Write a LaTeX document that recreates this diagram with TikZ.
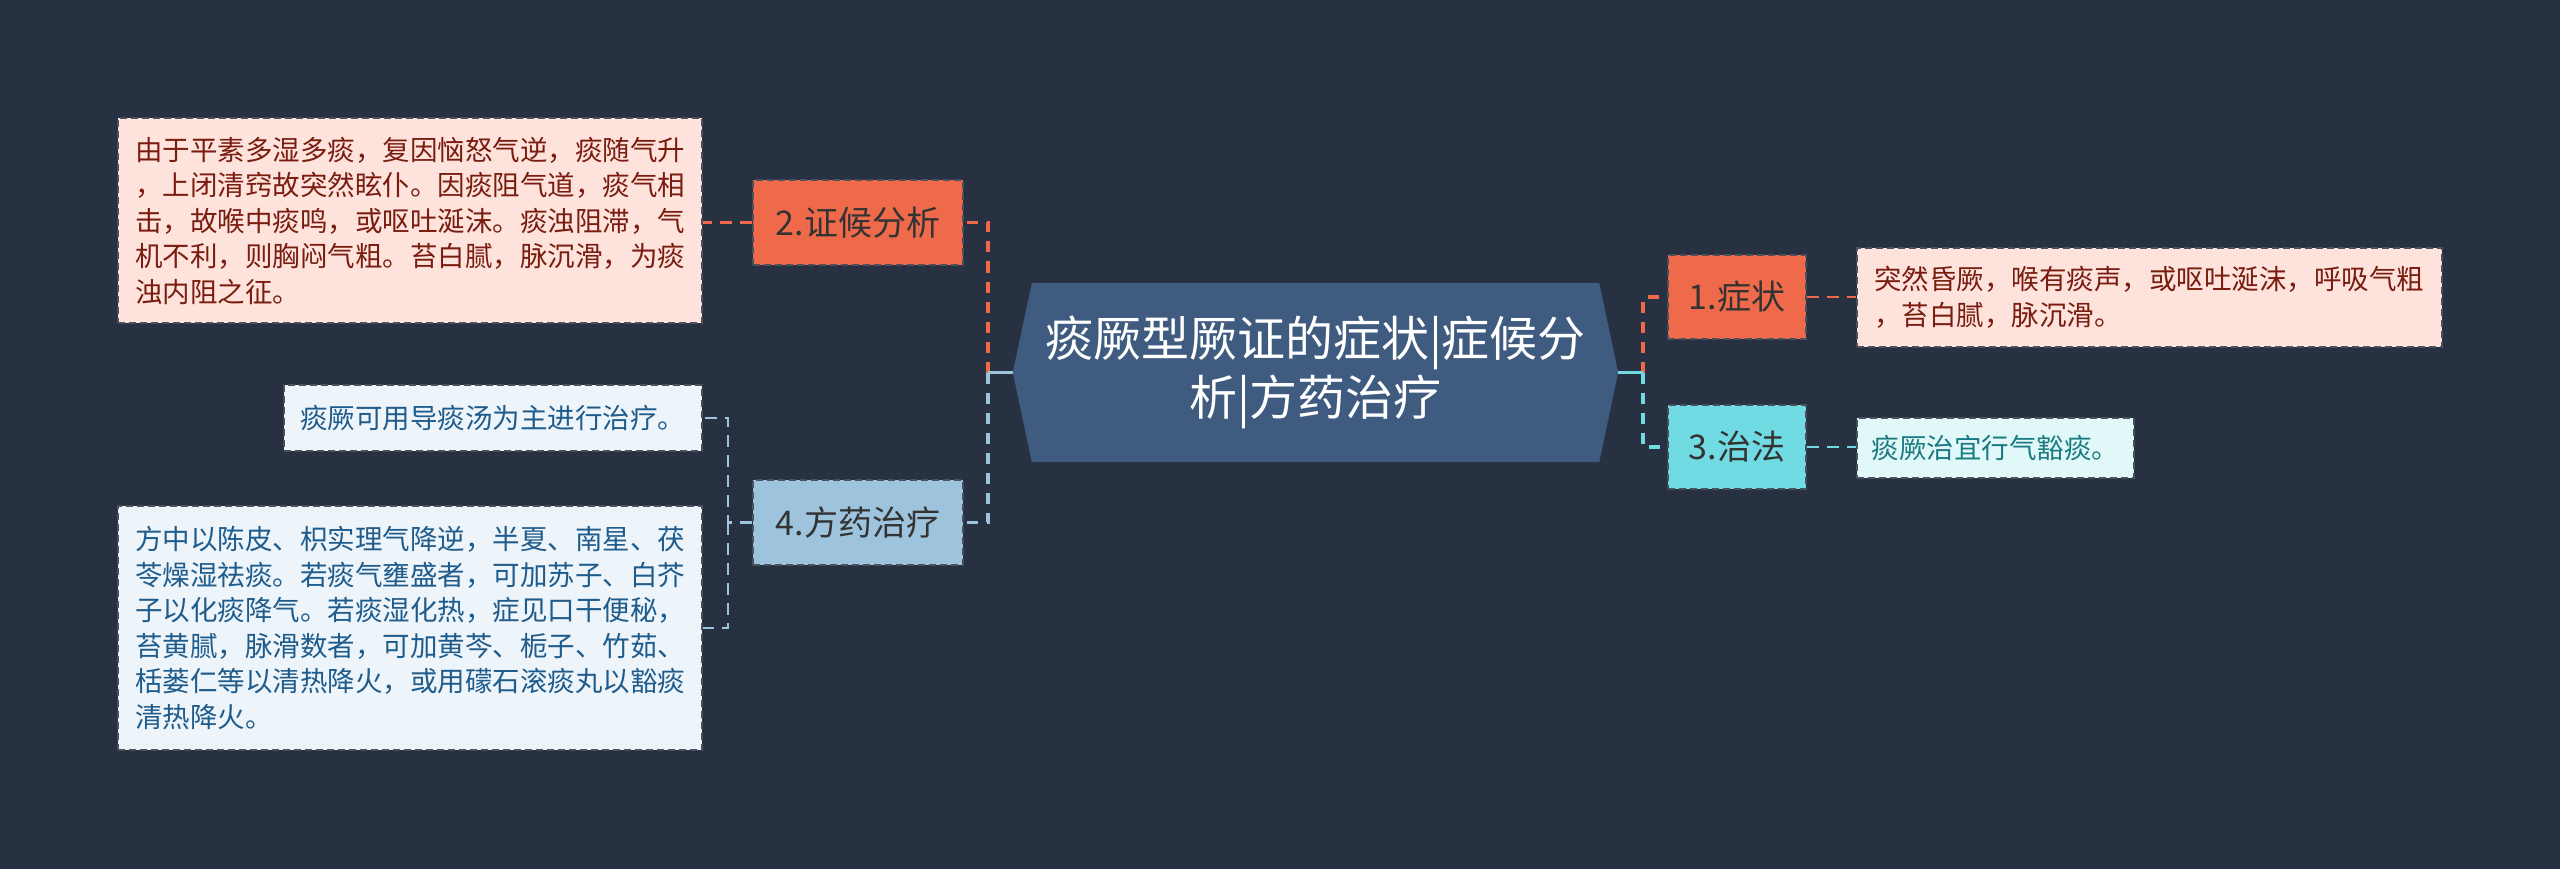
\documentclass[tikz,border=0pt]{standalone}
\usepackage{fontspec}
\setmainfont{Noto Sans CJK SC}
\usetikzlibrary{backgrounds}
\definecolor{bg}{HTML}{283141}
\definecolor{central}{HTML}{3F5B80}
\definecolor{orng}{HTML}{EF6A4B}
\definecolor{pinkfill}{HTML}{FDE3DC}
\definecolor{pinktext}{HTML}{7A1D10}
\definecolor{cyanb}{HTML}{70DBE2}
\definecolor{cyanfill}{HTML}{E1F8F9}
\definecolor{cyantext}{HTML}{1A7A82}
\definecolor{lblue}{HTML}{9DC3DD}
\definecolor{bluefill}{HTML}{EDF4FA}
\definecolor{bluetext}{HTML}{1F5C8C}
\definecolor{boxtext}{HTML}{333333}
\definecolor{bord}{HTML}{4A505C}
\tikzset{
  branchbox/.style={draw=bord, dash pattern=on 7pt off 4pt, line width=1.5pt,
    inner sep=0pt, text=boxtext, font={\fontsize{34}{40}\selectfont}},
  leafbox/.style={draw=bord, dash pattern=on 7pt off 4pt, line width=1.5pt,
    inner ysep=0pt, align=left, font={\fontsize{27.5}{35.5}\selectfont}},
  trunk/.style={line width=3.5pt, dash pattern=on 11pt off 9pt},
  stub/.style={line width=3.5pt},
  twig/.style={line width=2.5pt, dash pattern=on 12pt off 8pt}
}
\begin{document}
\begin{tikzpicture}[x=1pt,y=-1pt]
\useasboundingbox (0,0) rectangle (2560,869);
% central
\node[text=white, align=center, inner sep=0pt, minimum width=605pt, minimum height=179pt,
  font={\fontsize{48}{59}\selectfont}] (c) at (1315.5,372.5)
  {痰厥型厥证的症状|症候分\\析|方药治疗};
% branches
\node[branchbox, fill=orng, minimum width=210pt, minimum height=85pt] (b2) at (858,222.5) {2.证候分析};
\node[branchbox, fill=lblue, minimum width=210pt, minimum height=85pt] (b4) at (858,522.5) {4.方药治疗};
\node[branchbox, fill=orng, minimum width=138pt, minimum height=84pt] (b1) at (1737,297) {1.症状};
\node[branchbox, fill=cyanb, minimum width=138pt, minimum height=84pt] (b3) at (1737,447) {3.治法};
% leaves
\node[leafbox, fill=pinkfill, text=pinktext, text width=550pt, inner xsep=17pt, minimum height=205pt] (l2) at (410,220.5)
  {由于平素多湿多痰，复因恼怒气逆，痰随气升\\，上闭清窍故突然眩仆。因痰阻气道，痰气相\\击，故喉中痰鸣，或呕吐涎沫。痰浊阻滞，气\\机不利，则胸闷气粗。苔白腻，脉沉滑，为痰\\浊内阻之征。};
\node[leafbox, fill=bluefill, text=bluetext, text width=386pt, inner xsep=16pt, minimum height=66pt] (l4a) at (493,418)
  {痰厥可用导痰汤为主进行治疗。};
\node[leafbox, fill=bluefill, text=bluetext, text width=550pt, inner xsep=17pt, minimum height=244pt] (l4b) at (410,628)
  {方中以陈皮、枳实理气降逆，半夏、南星、茯\\苓燥湿祛痰。若痰气壅盛者，可加苏子、白芥\\子以化痰降气。若痰湿化热，症见口干便秘，\\苔黄腻，脉滑数者，可加黄芩、栀子、竹茹、\\栝蒌仁等以清热降火，或用礞石滚痰丸以豁痰\\清热降火。};
\node[leafbox, fill=pinkfill, text=pinktext, text width=551pt, inner xsep=17pt, minimum height=99pt] (l1) at (2149.5,297.5)
  {突然昏厥，喉有痰声，或呕吐涎沫，呼吸气粗\\，苔白腻，脉沉滑。};
\node[leafbox, fill=cyanfill, text=cyantext, text width=248pt, inner xsep=14.5pt, minimum height=60pt] (l3) at (1995.5,448)
  {痰厥治宜行气豁痰。};
\begin{scope}[on background layer]
  \fill[bg] (0,0) rectangle (2560,869);
  \fill[central] (c.west) -- ([xshift=19pt]c.north west) -- ([xshift=-19pt]c.north east)
    -- (c.east) -- ([xshift=-19pt]c.south east) -- ([xshift=19pt]c.south west) -- cycle;
\end{scope}
% junctions
\coordinate (jl) at (988,372.5);
\coordinate (jr) at (1643,372.5);
\coordinate (j4) at (728,522.5);
% trunk connectors
\draw[trunk, orng] (jl) |- (b2.east);
\draw[trunk, lblue] (jl) |- (b4.east);
\draw[stub, lblue] (c.west) -- (jl);
\draw[trunk, orng] (jr) |- (b1.west);
\draw[trunk, cyanb] (jr) |- (b3.west);
\draw[stub, cyanb] (c.east) -- (jr);
% twigs
\draw[twig, orng] (b2.west) -- (b2.west -| l2.east);
\draw[twig, lblue] (b4.west) -- (j4) |- (l4a.east);
\draw[twig, lblue] (j4) |- (l4b.east);
\draw[twig, orng] (b1.east) -- (b1.east -| l1.west);
\draw[twig, cyanb] (b3.east) -- (b3.east -| l3.west);
\end{tikzpicture}
\end{document}
